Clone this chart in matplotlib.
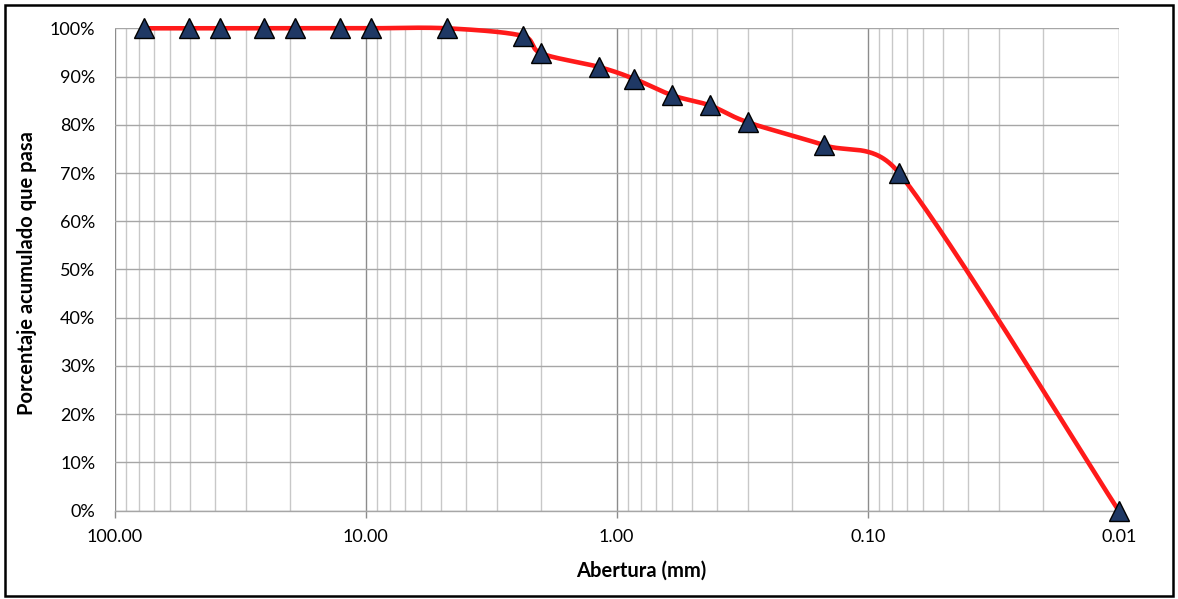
import matplotlib
matplotlib.use("Agg", force=True)
import matplotlib.pyplot as plt
from matplotlib.ticker import FixedLocator, FuncFormatter, LogLocator, NullFormatter
from matplotlib.patches import Rectangle
import numpy as np

# Sieve openings (mm) and cumulative percent passing
abertura = [76.2, 50.8, 38.1, 25.4, 19.05, 12.7, 9.525, 4.75, 2.36, 2.0,
            1.18, 0.85, 0.6, 0.425, 0.3, 0.15, 0.075, 0.01]
pasa = [100, 100, 100, 100, 100, 100, 100, 100, 98.4, 94.8,
        92.0, 89.5, 86.1, 84.0, 80.5, 75.8, 70.0, 0.0]

x_ticks = [100, 10, 1, 0.1, 0.01]
y_ticks = [0, 10, 20, 30, 40, 50, 60, 70, 80, 90, 100]

FONT = "Lato"
W, H = 1178, 599


def excel_smooth(pts, n=60):
    """Bezier smoothing in display space, close to Excel's 'smoothed line'."""
    pts = np.asarray(pts, dtype=float)
    out = [pts[0]]
    m = len(pts)
    for i in range(m - 1):
        p1, p2 = pts[i], pts[i + 1]
        p0 = pts[i - 1] if i > 0 else p1
        p3 = pts[i + 2] if i + 2 < m else p2
        d12 = np.hypot(*(p2 - p1))
        d02 = np.hypot(*(p2 - p0))
        d13 = np.hypot(*(p3 - p1))
        f1 = 1 / 6 if d02 / 6 < d12 / 2 else d12 / (2 * d02)
        f2 = 1 / 6 if d13 / 6 < d12 / 2 else d12 / (2 * d13)
        b1 = p1 + (p2 - p0) * f1
        b2 = p2 - (p3 - p1) * f2
        t = np.linspace(0, 1, n)[1:, None]
        seg = ((1 - t) ** 3) * p1 + 3 * ((1 - t) ** 2) * t * b1 \
            + 3 * (1 - t) * t ** 2 * b2 + t ** 3 * p2
        out.extend(seg)
    return np.array(out)


fig = plt.figure(figsize=(W / 100, H / 100), dpi=100)
ax = fig.add_axes([114.7 / W, 1 - 510.7 / H, (1118.7 - 114.7) / W, (510.7 - 28.3) / H])

ax.set_xscale("log")
ax.set_xlim(100, 0.01)
ax.set_ylim(0, 100)

# grid
ax.xaxis.set_major_locator(FixedLocator(x_ticks))
ax.xaxis.set_minor_locator(LogLocator(base=10, subs=np.arange(2, 10)))
ax.xaxis.set_minor_formatter(NullFormatter())
ax.xaxis.set_major_formatter(FuncFormatter(lambda v, p: f"{v:.2f}"))
ax.yaxis.set_major_locator(FixedLocator(y_ticks))
ax.yaxis.set_major_formatter(FuncFormatter(lambda v, p: f"{v:.0f}%"))
ax.grid(True, which="major", axis="x", color="#8c8c8c", linewidth=1.0)
ax.grid(True, which="minor", axis="x", color="#c8c8c8", linewidth=1.0)
ax.grid(True, which="major", axis="y", color="#a6a6a6", linewidth=1.0)
ax.set_axisbelow(True)

for s in ["top", "right", "left"]:
    ax.spines[s].set_visible(False)
ax.spines["bottom"].set_color("#a6a6a6")
ax.spines["bottom"].set_linewidth(1.0)

ax.tick_params(axis="x", which="major", length=5, width=1, color="#8c8c8c",
               pad=8, labelsize=13, labelcolor="black")
ax.tick_params(axis="x", which="minor", length=0)
ax.tick_params(axis="y", length=0, pad=14, labelsize=13, labelcolor="black")
for lab in ax.get_xticklabels() + ax.get_yticklabels():
    lab.set_fontfamily(FONT)

# smoothed curve computed in display coordinates
fig.canvas.draw()
disp = ax.transData.transform(np.column_stack([abertura, pasa]))
curve = ax.transData.inverted().transform(excel_smooth(disp))
ax.plot(curve[:, 0], curve[:, 1], color="#ff1a1a", linewidth=3.3,
        solid_capstyle="round", zorder=3, clip_on=False)
ax.plot(abertura, pasa, linestyle="none", marker="^", markersize=15,
        markerfacecolor="#1f3864", markeredgecolor="black", markeredgewidth=1.0,
        zorder=4, clip_on=False)

fig.text(641 / W, 1 - 571 / H, "Abertura (mm)", fontsize=14.5, fontweight="bold",
         family=FONT, ha="center", va="center")
fig.text(26.7 / W, 1 - 273.5 / H, "Porcentaje acumulado que pasa", fontsize=14.5,
         fontweight="bold", family=FONT, ha="center", va="center", rotation=90)

# outer chart border
fig.patches.append(Rectangle((5 / W, 3 / H), (1173 - 5) / W, (594 - 3) / H,
                             transform=fig.transFigure, fill=False,
                             edgecolor="black", linewidth=1.8))

fig.savefig("out.png", dpi=100)
